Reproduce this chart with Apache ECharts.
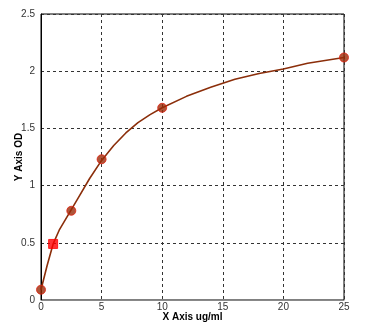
<!DOCTYPE html>
<html><head><meta charset="utf-8">
<script src="https://cdn.jsdelivr.net/npm/echarts@6/dist/echarts.min.js"></script>
<style>html,body{margin:0;padding:0;background:#fff}#c{width:384px;height:336px}</style>
</head><body><div id="c"></div>
<script>
var pointX = [0, 1, 2.5, 5, 10, 25];
var pointY = [0.09, 0.49, 0.78, 1.23, 1.68, 2.12];
var curveX = [0, 0.5, 1, 1.5, 2, 2.5, 3, 4, 5, 6, 7, 8, 9, 10, 12, 14, 16, 18, 20, 22, 25];
var curveY = [0.09, 0.30, 0.49, 0.61, 0.70, 0.79, 0.88, 1.06, 1.22, 1.35, 1.46, 1.55, 1.62, 1.68, 1.78, 1.86, 1.93, 1.98, 2.02, 2.07, 2.12];
var xTicks = [0, 5, 10, 15, 20, 25];
var yTicks = [0, 0.5, 1, 1.5, 2, 2.5];
var xTitle = 'X Axis ug/ml';
var yTitle = 'Y Axis OD';

var chart = echarts.init(document.getElementById('c'));
var pts = pointX.map(function(x, i){
  return {value:[x, pointY[i]], symbol: i === 1 ? 'rect' : 'circle',
    itemStyle:{color: i === 1 ? '#ff0000' : '#9a2a08', borderColor: i===1 ? '#ff0000' : '#e02010', borderWidth:1}};
});
chart.setOption({
  animation:false,
  grid:{left:41, right:40, top:14, bottom:36, show:true, borderColor:'#000', borderWidth:1, containLabel:false, outerBoundsMode:'none'},
  xAxis:{type:'value', min:xTicks[0], max:xTicks[xTicks.length-1], interval:5,
    name:xTitle, nameLocation:'middle', nameGap:12, nameMoveOverlap:false,
    nameTextStyle:{fontFamily:'Liberation Sans', fontSize:10, fontWeight:'bold', color:'#000'},
    axisLine:{lineStyle:{color:'#888', width:1}}, axisTick:{show:false},
    axisLabel:{fontFamily:'Liberation Sans', fontSize:10, color:'#333', margin:2},
    splitLine:{lineStyle:{type:[3,3], color:'#333', width:1}}},
  yAxis:{type:'value', min:yTicks[0], max:yTicks[yTicks.length-1], interval:0.5,
    name:yTitle, nameLocation:'middle', nameGap:17, nameMoveOverlap:false,
    nameTextStyle:{fontFamily:'Liberation Sans', fontSize:10, fontWeight:'bold', color:'#000'},
    axisLine:{show:true, lineStyle:{color:'#000', width:1}}, axisTick:{show:false},
    axisLabel:{fontFamily:'Liberation Sans', fontSize:10, color:'#333', margin:6},
    splitLine:{lineStyle:{type:[3,3], color:'#333', width:1}}},
  series:[
    {type:'line', data:curveX.map(function(x,i){return [x, curveY[i]];}), smooth:false, showSymbol:false,
      lineStyle:{color:'#8b2e0a', width:1.6, join:'round'}, z:3},
    {type:'scatter', data:pts, symbolSize:9, z:4}
  ]
});
</script></body></html>
